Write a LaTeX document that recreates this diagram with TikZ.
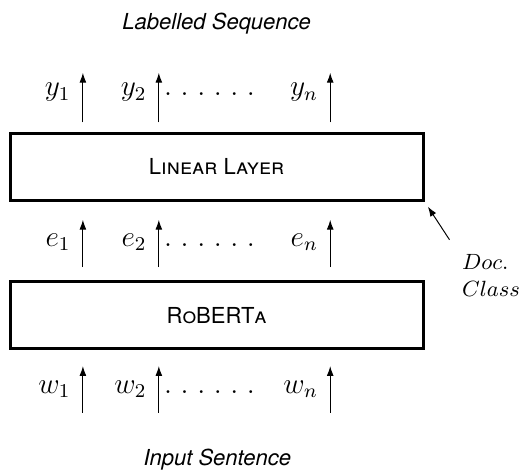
\documentclass[tikz,border=0pt]{standalone}
\usepackage{fontspec}
\setsansfont{TeX Gyre Heros}
\usetikzlibrary{arrows.meta}

\newcommand{\seqdots}{.\hspace{3.5pt}.\hspace{3.5pt}.\hspace{3.5pt}.\hspace{3.5pt}.\hspace{3.5pt}.}

\begin{document}
\begin{tikzpicture}[
  layerbox/.style = {draw, line width=1.2pt, minimum width=5.93cm,
    minimum height=0.96cm, font=\small\sffamily},
  seqlabel/.style = {font=\small\sffamily\itshape, anchor=base},
  token/.style = {anchor=base east, inner sep=0pt, font=\large},
  tokarrow/.style = {-{Latex[length=4pt,width=2.8pt]}}
  ]
  \useasboundingbox (0,0) rectangle (7.45,6.745);

  \node[seqlabel] (out) at (3.11,6.32) {Labelled Sequence};
  \node[layerbox] (linear) at (3.11,4.35) {\textsc{Linear Layer}};
  \node[layerbox] (roberta) at (3.11,2.22) {R\textsc{o}BERT\textsc{a}};
  \node[seqlabel] (in) at (3.12,0.07) {Input Sentence};

  % token rows: arrow bottom, arrow top, label baseline
  \foreach \tok/\lo/\hi/\base in {y/4.99/5.70/5.37, e/2.91/3.59/3.21, w/0.82/1.49/1.10} {
    \foreach \col/\x in {1/1.19, 2/2.28, n/4.74} {
      \coordinate (\tok\col-lo) at (\x,\lo);
      \coordinate (\tok\col-hi) at (\x,\hi);
      \draw[tokarrow] (\tok\col-lo) -- (\tok\col-hi);
      \node[token] (\tok\col) at (\x-0.17,\base) {$\tok_\col$};
    }
    \node[anchor=base west, inner sep=0pt, font=\large] (\tok dots) at (2.35,\base) {\seqdots};
  }

  \node[font=\small, align=left] (doc) at (7.05,2.79) {$Doc.$\\$Class$};
  \draw[tokarrow, shorten <=3pt, shorten >=2.4pt] (doc.north west) -- (linear.south east);
\end{tikzpicture}
\end{document}
